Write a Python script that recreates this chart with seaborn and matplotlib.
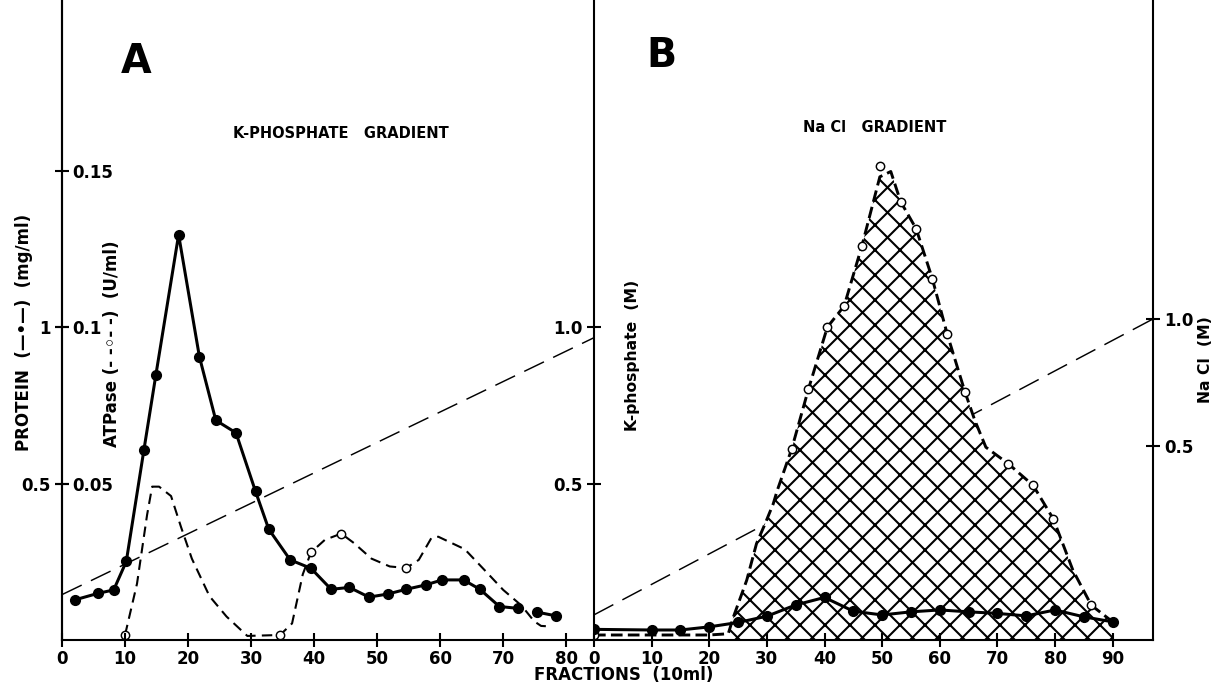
import matplotlib
matplotlib.use('Agg')
import matplotlib.pyplot as plt
import seaborn as sns

# ---------- panel A : K-phosphate gradient ----------
a_prot_frac = [2, 5.7, 8.2, 10.2, 13, 14.9, 18.5, 21.8, 24.4, 27.6, 30.7, 32.8, 36.2,
               39.5, 42.7, 45.6, 48.7, 51.7, 54.6, 57.7, 60.3, 63.7, 66.3, 69.4, 72.4]
a_prot = [0.128, 0.149, 0.160, 0.251, 0.608, 0.848, 1.295, 0.905, 0.702, 0.662, 0.475,
          0.354, 0.256, 0.229, 0.162, 0.168, 0.137, 0.147, 0.162, 0.176, 0.192, 0.192,
          0.162, 0.107, 0.101]
a_prot_tail_frac = [75.4, 78.4]
a_prot_tail = [0.089, 0.077]

# ATPase (U/ml)
a_atp_frac = [10, 11.9, 13.5, 14.3, 15.4, 17.3, 18.9, 20.6, 23.4, 26.1, 29.4, 34.6, 36.5,
              38.2, 39.5, 41.7, 44.3, 46.3, 49.1, 52.0, 54.6, 56.6, 58.6, 59.7, 63.9,
              67.2, 70.0, 72.9, 74.9, 76.0, 77.7]
a_atp = [0.0016, 0.018, 0.040, 0.049, 0.049, 0.046, 0.036, 0.026, 0.014, 0.0075, 0.0013,
         0.0016, 0.0053, 0.021, 0.028, 0.032, 0.034, 0.031, 0.026, 0.0235, 0.023, 0.0256,
         0.0326, 0.033, 0.029, 0.022, 0.016, 0.011, 0.006, 0.0045, 0.0043]
a_atp_pts_frac = [10, 34.6, 39.5, 44.3, 54.6]
a_atp_pts = [0.0016, 0.0016, 0.028, 0.034, 0.023]

# K-phosphate gradient (M)
kphos_frac = [0, 84.4]
kphos_conc = [0.145, 0.966]

# ---------- panel B : NaCl gradient ----------
b_prot_frac = [0, 10, 15, 20, 25, 30, 35, 40, 45, 50, 55, 60, 65, 70, 75, 80, 85, 90]
b_prot = [0.034, 0.032, 0.032, 0.042, 0.056, 0.076, 0.112, 0.136, 0.092, 0.080, 0.090,
          0.096, 0.090, 0.085, 0.077, 0.096, 0.074, 0.058]

# ATPase (U/ml)
b_atp_frac = [0, 10, 20, 23.3, 24.2, 26.5, 28.2, 29.7, 31.1, 31.8, 34.3, 37.2, 40.5, 43.4,
              46.5, 49.6, 51.5, 53.2, 55.9, 58.7, 61.3, 64.4, 66.1, 68.0, 71.9, 76.2,
              79.7, 83.1, 86.3, 90]
b_atp = [0.0016, 0.0016, 0.0016, 0.002, 0.0074, 0.0191, 0.0308, 0.0372, 0.0435, 0.0478,
         0.0610, 0.0801, 0.100, 0.1067, 0.126, 0.148, 0.1497, 0.1401, 0.1314, 0.1155,
         0.0977, 0.0791, 0.0701, 0.0616, 0.0563, 0.0494, 0.0387, 0.0223, 0.0111, 0.0058]
b_atp_pts_frac = [0, 34.3, 37.2, 40.5, 43.4, 46.5, 49.6, 53.2, 55.9, 58.7, 61.3, 64.4,
                  71.9, 76.2, 79.7, 86.3]
b_atp_pts = [0.0016, 0.0610, 0.0801, 0.100, 0.1067, 0.126, 0.1516, 0.1401, 0.1314,
             0.1155, 0.0977, 0.0791, 0.0563, 0.0494, 0.0387, 0.0111]

# NaCl gradient (M)
nacl_frac = [0, 97]
nacl_conc = [-0.165, 1.0]

sns.set_theme(style='ticks')
plt.rcParams['font.family'] = ['DejaVu Sans']
plt.rcParams['font.weight'] = 'bold'
plt.rcParams['text.color'] = 'black'
plt.rcParams['hatch.linewidth'] = 1.0
plt.rcParams['axes.linewidth'] = 1.0
plt.rcParams['axes.edgecolor'] = 'black'

DPI = 150
W, H = 1215, 685
fig = plt.figure(figsize=(W / DPI, H / DPI), dpi=DPI)


def box(x0, x1, y0, y1):
    return [x0 / W, 1 - y1 / H, (x1 - x0) / W, (y1 - y0) / H]


PMAX = 2.045  # protein / K-phosphate scale top
ax_a = fig.add_axes(box(62, 594, 0, 640))
ax_b = fig.add_axes(box(594, 1153, 0, 640))
ax_at = ax_a.twinx()   # ATPase scale (U/ml)
ax_bt = ax_b.twinx()   # ATPase panel B, same scale, hidden
ax_bn = ax_b.twinx()   # NaCl (M)

for ax in (ax_a, ax_b):
    ax.set_ylim(0, PMAX)
for ax in (ax_at, ax_bt):
    ax.set_ylim(0, PMAX / 10)
ax_bn.set_ylim(-0.264, 2.256)
ax_a.set_xlim(0, 84.4)
ax_b.set_xlim(0, 97)

line_k = dict(color='black', linewidth=1.45, marker='o', markersize=4.6,
              markerfacecolor='black', markeredgecolor='black', legend=False)
grad_k = dict(color='black', linewidth=0.7, linestyle=(0, (15, 7)), legend=False)
open_k = dict(marker='o', s=16, facecolor='white', edgecolor='black', linewidth=0.7,
              legend=False, zorder=5)

# panel A
sns.lineplot(x=kphos_frac, y=kphos_conc, ax=ax_a, **grad_k)
sns.lineplot(x=a_prot_frac, y=a_prot, ax=ax_a, **line_k)
sns.lineplot(x=a_prot_tail_frac, y=a_prot_tail, ax=ax_a, **line_k)
sns.lineplot(x=a_atp_frac, y=a_atp, ax=ax_at, color='black', linewidth=1.0,
             linestyle=(0, (5, 3)), legend=False)
sns.scatterplot(x=a_atp_pts_frac, y=a_atp_pts, ax=ax_at, **open_k)

# panel B
sns.lineplot(x=nacl_frac, y=nacl_conc, ax=ax_bn, **grad_k)
mask = [v > 0.0019 for v in b_atp]
ax_bt.fill_between(b_atp_frac, 0, b_atp, where=mask, facecolor='white',
                   edgecolor='black', hatch='xx', linewidth=0)
sns.lineplot(x=b_atp_frac, y=b_atp, ax=ax_bt, color='black', linewidth=1.4,
             linestyle=(0, (4, 1.8)), legend=False)
sns.scatterplot(x=b_atp_pts_frac, y=b_atp_pts, ax=ax_bt, **open_k)
sns.lineplot(x=b_prot_frac, y=b_prot, ax=ax_b, **line_k)

# layering: protein axes on top
ax_a.set_zorder(ax_at.get_zorder() + 1)
ax_a.patch.set_visible(False)
ax_bn.set_zorder(0)
ax_bt.set_zorder(1)
ax_bt.patch.set_visible(False)
ax_b.set_zorder(2)
ax_b.patch.set_visible(False)

# spines
for ax in (ax_a, ax_b, ax_at, ax_bt, ax_bn):
    ax.spines['top'].set_visible(False)
    ax.set_xlabel('')
    ax.set_ylabel('')
ax_a.spines['right'].set_visible(False)
ax_b.spines['right'].set_visible(False)
for s in ('left', 'bottom'):
    ax_at.spines[s].set_visible(False)
    ax_bt.spines[s].set_visible(False)
    ax_bn.spines[s].set_visible(False)
ax_bt.spines['right'].set_visible(False)
ax_bt.set_yticks([])
ax_at.spines['right'].set_position(('axes', 0.0))

tick_kw = dict(direction='inout', length=7, width=1.0, labelsize=8, colors='black')

ax_a.set_xticks(range(0, 81, 10))
ax_b.set_xticks(range(0, 91, 10))
for ax in (ax_a, ax_b):
    ax.tick_params(axis='x', pad=1.5, **tick_kw)

ax_a.set_yticks([0.5, 1.0], ['0.5', '1'])
ax_a.tick_params(axis='y', pad=2.0, **tick_kw)
ax_at.set_yticks([0.05, 0.1, 0.15], ['0.05', '0.1', '0.15'])
ax_at.tick_params(axis='y', pad=1.5, **tick_kw)
ax_b.set_yticks([0.5, 1.0], ['0.5', '1.0'])
ax_b.tick_params(axis='y', pad=2.0, **tick_kw)
ax_bn.set_yticks([0.5, 1.0], ['0.5', '1.0'])
ax_bn.tick_params(axis='y', pad=2.0, **tick_kw)

# text
ax_a.text(0.139, 0.903, 'A', transform=ax_a.transAxes, fontsize=19,
          ha='center', va='center')
ax_b.text(0.12, 0.9125, 'B', transform=ax_b.transAxes, fontsize=19,
          ha='center', va='center')
ax_a.text(0.321, 0.792, 'K-PHOSPHATE   GRADIENT', transform=ax_a.transAxes,
          fontsize=7, ha='left', va='center')
ax_b.text(0.374, 0.80, 'Na Cl   GRADIENT', transform=ax_b.transAxes,
          fontsize=7, ha='left', va='center')

fig.text(24 / W, 1 - 332 / H, 'PROTEIN  (\u2014\u2022\u2014)  (mg/ml)', rotation=90,
         fontsize=8, ha='center', va='center')
fig.text(112 / W, 1 - 344 / H, 'ATPase (- -\u25e6- -)  (U/ml)', rotation=90,
         fontsize=8, ha='center', va='center')
fig.text(632 / W, 1 - 355 / H, 'K-phosphate  (M)', rotation=90,
         fontsize=7.5, ha='center', va='center')
fig.text(1205 / W, 1 - 360 / H, 'Na Cl  (M)', rotation=90,
         fontsize=7.5, ha='center', va='center')
fig.text(624 / W, 1 - 675 / H, 'FRACTIONS  (10ml)', fontsize=8,
         ha='center', va='center')

fig.savefig('out.png', dpi=DPI, facecolor='white')
